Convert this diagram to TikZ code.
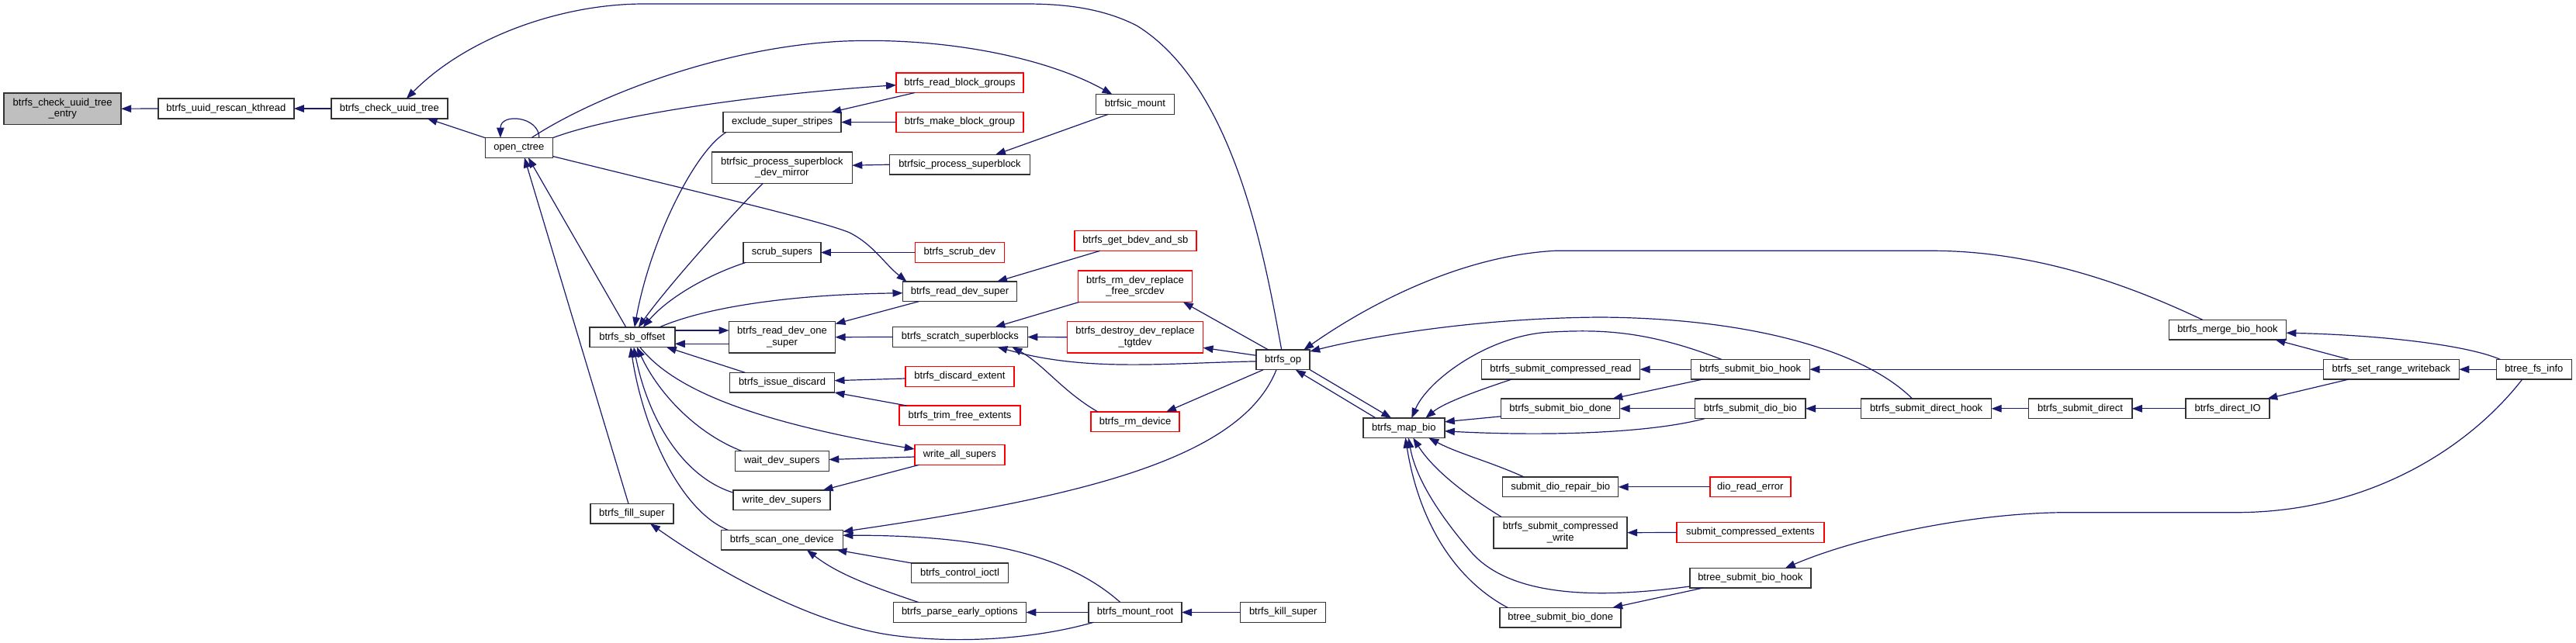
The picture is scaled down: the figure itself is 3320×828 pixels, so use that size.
\documentclass[tikz,border=0pt]{standalone}
\usepackage{fontspec}
\setmainfont{Liberation Sans}
\usetikzlibrary{arrows.meta,calc}
\definecolor{edgeblue}{HTML}{191970}
\definecolor{boxgray}{HTML}{BFBFBF}
\tikzset{
  box/.style={draw=black!80, line width=1.5pt, fill=white, minimum height=25.6pt,
    inner xsep=3pt, inner ysep=2pt, outer sep=0pt,
    font=\fontsize{13}{14.5}\selectfont, align=center, text=black},
  two/.style={minimum height=40.3pt},
  redbox/.style={box, draw=red},
  graybox/.style={box, fill=boxgray},
  e/.style={draw=edgeblue, line width=1.2pt, -{Triangle[length=13pt,width=9.5pt]}},
}
\begin{document}
\begin{tikzpicture}[x=1pt,y=-1pt]
\useasboundingbox (0,0) rectangle (3320,828);
\fill[white] (0,0) rectangle (3320,828);

% nodes
\node[graybox,two,minimum width=151pt] (entry) at (80.7,140.2) {btrfs\_check\_uuid\_tree\\\_entry};
\node[box,minimum width=175pt] (kthread) at (291.4,140) {btrfs\_uuid\_rescan\_kthread};
\node[box,minimum width=150pt] (cuuid) at (501.8,140) {btrfs\_check\_uuid\_tree};
\node[box,minimum width=87pt] (octree) at (668.9,190.5) {open\_ctree};
\node[box,minimum width=110pt] (sboff) at (814.8,434.7) {btrfs\_sb\_offset};
\node[box,minimum width=107pt] (fill) at (814.5,662.3) {btrfs\_fill\_super};
\node[box,minimum width=152pt] (exclude) at (1008.2,157.5) {exclude\_super\_stripes};
\node[redbox,minimum width=164pt] (rbg) at (1237,106.7) {btrfs\_read\_block\_groups};
\node[redbox,minimum width=164pt] (mbg) at (1237,157.5) {btrfs\_make\_block\_group};
\node[box,minimum width=101pt] (sicmount) at (1462.9,134.5) {btrfsic\_mount};
\node[box,two,minimum width=181pt] (devmirror) at (1007.8,216.2) {btrfsic\_process\_superblock\\\_dev\_mirror};
\node[box,minimum width=181pt] (sicproc) at (1237,212.2) {btrfsic\_process\_superblock};
\node[box,minimum width=100pt] (scrub) at (1007.9,325.5) {scrub\_supers};
\node[redbox,minimum width=115pt] (scrubdev) at (1236.8,325.5) {btrfs\_scrub\_dev};
\node[redbox,minimum width=157pt] (bdev) at (1463.4,310.5) {btrfs\_get\_bdev\_and\_sb};
\node[box,minimum width=147pt] (rds) at (1237,375.8) {btrfs\_read\_dev\_super};
\node[redbox,two,minimum width=147pt] (freesrc) at (1463,369.2) {btrfs\_rm\_dev\_replace\\\_free\_srcdev};
\node[box,two,minimum width=137pt] (rdos) at (1008,434.7) {btrfs\_read\_dev\_one\\\_super};
\node[box,minimum width=174pt] (scratch) at (1237.4,434.5) {btrfs\_scratch\_superblocks};
\node[redbox,two,minimum width=175pt] (tgtdev) at (1463,434.7) {btrfs\_destroy\_dev\_replace\\\_tgtdev};
\node[box,minimum width=69pt] (bop) at (1653.7,463.9) {btrfs\_op};
\node[box,minimum width=135pt] (discard) at (1008,493.2) {btrfs\_issue\_discard};
\node[redbox,minimum width=140pt] (dext) at (1237,485.5) {btrfs\_discard\_extent};
\node[redbox,minimum width=156pt] (trim) at (1237,535.8) {btrfs\_trim\_free\_extents};
\node[redbox,minimum width=114pt] (rmdev) at (1463,543.8) {btrfs\_rm\_device};
\node[redbox,minimum width=116pt] (was) at (1236.8,586.5) {write\_all\_supers};
\node[box,minimum width=121pt] (wait) at (1007.8,594.5) {wait\_dev\_supers};
\node[box,minimum width=125pt] (wds) at (1007.6,644.7) {write\_dev\_supers};
\node[box,minimum width=157pt] (scan) at (1007.8,696.2) {btrfs\_scan\_one\_device};
\node[box,minimum width=125pt] (ioctl) at (1237,738.7) {btrfs\_control\_ioctl};
\node[box,minimum width=171pt] (peo) at (1236.8,789.5) {btrfs\_parse\_early\_options};
\node[box,minimum width=120pt] (mroot) at (1463,789.5) {btrfs\_mount\_root};
\node[box,minimum width=110pt] (kill) at (1653.7,789.5) {btrfs\_kill\_super};
\node[box,minimum width=105pt] (map) at (1809.3,551.8) {btrfs\_map\_bio};
\node[box,minimum width=204pt] (scr) at (2011.5,476.2) {btrfs\_submit\_compressed\_read};
\node[box,minimum width=153pt] (sbd) at (2011.2,526.8) {btrfs\_submit\_bio\_done};
\node[box,minimum width=153pt] (sbh) at (2255.8,476.2) {btrfs\_submit\_bio\_hook};
\node[box,minimum width=142.5pt] (sdio) at (2255.8,526.8) {btrfs\_submit\_dio\_bio};
\node[box,minimum width=168pt] (sdh) at (2482.6,526.8) {btrfs\_submit\_direct\_hook};
\node[box,minimum width=149pt] (repair) at (2011.2,627.8) {submit\_dio\_repair\_bio};
\node[redbox,minimum width=104pt] (dre) at (2255.8,627.8) {dio\_read\_error};
\node[box,two,minimum width=172pt] (scw) at (2011.2,686.7) {btrfs\_submit\_compressed\\\_write};
\node[redbox,minimum width=190pt] (sce) at (2255.8,686.5) {submit\_compressed\_extents};
\node[box,minimum width=156pt] (bsbh) at (2255.8,745.2) {btree\_submit\_bio\_hook};
\node[box,minimum width=156pt] (bsbd) at (2011.2,796.2) {btree\_submit\_bio\_done};
\node[box,minimum width=151pt] (merge) at (2870.9,425.2) {btrfs\_merge\_bio\_hook};
\node[box,minimum width=175pt] (srw) at (3081.8,476.2) {btrfs\_set\_range\_writeback};
\node[box,minimum width=97pt] (bfi) at (3265.8,476.2) {btree\_fs\_info};
\node[box,minimum width=133.5pt] (sdirect) at (2681,526.8) {btrfs\_submit\_direct};
\node[box,minimum width=108pt] (dio) at (2871.2,526.8) {btrfs\_direct\_IO};

% edges (arrow head at the called function)
\draw[e] (kthread.west) -- (entry.east);
\draw[e] (cuuid.west) -- (kthread.east);
\draw[e] (octree.north west) -- ($(cuuid.south)+(48.8,0)$);
\draw[e] ($(bop.north)+(-2,0)$) .. controls (1630,330) and (1590,110) .. (1465,33) .. controls (1420,10) and (1370,5) .. (1322,5) -- (830,5) .. controls (720,5) and (600,50) .. ($(cuuid.north)+(22,0)$);
\draw[e] ($(octree.north)+(26,0)$) .. controls (695,150) and (645,145) .. ($(octree.north)+(-24,0)$);
\draw[e] ($(fill.north)+(-4.5,0)$) -- ($(octree.south)+(7,0)$);
\draw[e] ($(sboff.north)+(-8,0)$) -- ($(octree.south)+(12,0)$);
\draw[e] ($(octree.north)+(16,0)$) .. controls (765,125) and (930,60) .. (1089,53) .. controls (1220,48) and (1350,75) .. ($(sicmount.north)+(-29.4,0)$);
\draw[e] (octree.north east) .. controls (800,145) and (1000,120) .. ($(rbg.west)+(0,3)$);
\draw[e] ($(octree.east)+(0,11)$) .. controls (900,248) and (1060,285) .. (1095,300) .. controls (1125,315) and (1140,340) .. ($(rds.north west)+(5,0)$);
\draw[e] ($(rbg.south west)+(24,0)$) -- ($(exclude.north east)+(-13,0)$);
\draw[e] (mbg.west) -- (exclude.east);
\draw[e] ($(exclude.south west)+(4,0)$) .. controls (895,195) and (838,310) .. ($(sboff.north)+(3,0)$);
\draw[e] ($(devmirror.south)+(-24.5,0)$) .. controls (940,280) and (860,370) .. ($(sboff.north)+(8,0)$);
\draw[e] ($(scrub.south west)+(3.6,0)$) .. controls (910,355) and (860,385) .. ($(sboff.north)+(14,0)$);
\draw[e] ($(sboff.north)+(35,0)$) .. controls (900,400) and (1000,380) .. ($(rds.west)+(0,2)$);
\draw[e] ($(sboff.east)+(0,-8.7)$) -- ($(rdos.west)+(0,-8.7)$);
\draw[e] ($(rdos.west)+(0,8.6)$) -- ($(sboff.east)+(0,8.6)$);
\draw[e] ($(rds.south west)+(21,0)$) -- ($(rdos.north east)+(0,3)$);
\draw[e] (scratch.west) -- (rdos.east);
\draw[e] (tgtdev.west) -- (scratch.east);
\draw[e] ($(bop.west)+(0,-5.6)$) -- ($(tgtdev.east)+(0,13.6)$);
\draw[e] ($(bop.west)+(0,2)$) .. controls (1500,468) and (1400,480) .. ($(scratch.south)+(48,0)$);
\draw[e] ($(freesrc.south west)+(1.6,0)$) -- ($(scratch.north)+(45,0)$);
\draw[e] ($(bop.north west)+(15.7,0)$) -- ($(freesrc.south east)+(-11.7,0)$);
\draw[e] ($(bop.south west)+(9,0)$) -- ($(rmdev.north)+(40,0)$);
\draw[e] ($(rmdev.north west)+(9,0)$) .. controls (1370,505) and (1345,470) .. ($(scratch.south east)+(-20,0)$);
\draw[e] ($(bop.south)+(-8.7,0)$) .. controls (1600,590) and (1400,640) .. ($(scan.north east)+(0,2)$);
\draw[e] (bop.south east) -- ($(map.north)+(-16,0)$);
\draw[e] ($(map.north west)+(16.4,0)$) -- ($(bop.south)+(16,0)$);
\draw[e] ($(merge.north)+(-32,0)$) .. controls (2770,380) and (2640,323.3) .. (2490,323.3) -- (2004,323.3) .. controls (1880,330) and (1760,395) .. ($(bop.north east)+(-8,0)$);
\draw[e] ($(sdh.north)+(-18,0)$) .. controls (2400,450) and (2250,410) .. (2062,409) .. controls (1900,410) and (1760,435) .. ($(bop.north east)+(0,2)$);
\draw[e] ($(sbh.north)+(-37,0)$) .. controls (2120,425) and (2060,425) .. (2000,428) .. controls (1920,431) and (1840,490) .. ($(map.north)+(10,0)$);
\draw[e] ($(scr.south west)+(39,0)$) .. controls (1900,505) and (1860,520) .. ($(map.north)+(28,0)$);
\draw[e] ($(sbd.west)+(0,10)$) -- ($(map.east)+(0,-8)$);
\draw[e] ($(sdio.south west)+(12.7,0)$) .. controls (2120,560) and (1980,562) .. ($(map.east)+(0,4)$);
\draw[e] (sbh.west) -- (scr.east);
\draw[e] ($(sbh.south west)+(15.4,0)$) -- ($(sbd.north east)+(-9.5,0)$);
\draw[e] (sdio.west) -- (sbd.east);
\draw[e] (sdh.west) -- (sdio.east);
\draw[e] (srw.west) -- (sbh.east);
\draw[e] ($(repair.north west)+(27.5,0)$) .. controls (1920,595) and (1880,585) .. ($(map.south)+(32,0)$);
\draw[e] (dre.west) -- (repair.east);
\draw[e] ($(scw.north west)+(10,0)$) .. controls (1900,645) and (1850,610) .. ($(map.south)+(12,0)$);
\draw[e] (sce.west) -- (scw.east);
\draw[e] ($(bsbh.south west)+(0,-2)$) .. controls (2060,772) and (1950,770) .. (1898,714) .. controls (1860,670) and (1825,620) .. ($(map.south)+(6,0)$);
\draw[e] ($(bsbh.south west)+(17,0)$) -- ($(bsbd.north east)+(-11,0)$);
\draw[e] ($(bsbd.north west)+(10,0)$) .. controls (1880,750) and (1830,680) .. ($(map.south)+(2,0)$);
\draw[e] ($(bfi.south)+(-15,0)$) .. controls (3180,580) and (3050,660.7) .. (2881.7,660.7) -- (2664.7,660.7) .. controls (2550,660.7) and (2400,690) .. ($(bsbh.north)+(45,0)$);
\draw[e] ($(bfi.north west)+(5,0)$) .. controls (3180,445) and (3070,432) .. ($(merge.east)+(0,4)$);
\draw[e] ($(srw.north west)+(33,0)$) -- ($(merge.south east)+(-14,0)$);
\draw[e] (bfi.west) -- (srw.east);
\draw[e] ($(srw.south west)+(33,0)$) -- ($(dio.north east)+(-3,0)$);
\draw[e] (dio.west) -- (sdirect.east);
\draw[e] (sdirect.west) -- (sdh.east);
\draw[e] ($(discard.north west)+(20,0)$) -- ($(sboff.south east)+(-11,0)$);
\draw[e] ($(sboff.south)+(10,0)$) .. controls (870,505) and (980,545) .. ($(was.west)+(0,-7.5)$);
\draw[e] ($(was.west)+(0,2.5)$) -- ($(wait.east)+(0,-2)$);
\draw[e] ($(was.south west)+(5.8,0)$) -- ($(wds.north east)+(-9.5,0)$);
\draw[e] ($(wait.north west)+(9.2,0)$) .. controls (900,560) and (850,510) .. ($(sboff.south)+(6,0)$);
\draw[e] ($(wds.north west)+(0,3.3)$) .. controls (880,615) and (835,540) .. ($(sboff.south)+(2,0)$);
\draw[e] ($(scan.north west)+(9,0)$) .. controls (880,660) and (830,560) .. ($(sboff.south)+(-2,0)$);
\draw[e] ($(mroot.south west)+(6.4,0)$) .. controls (1330,825) and (1230,830) .. (1150,819) .. controls (1050,805) and (930,740) .. ($(fill.south)+(23.5,0)$);
\draw[e] ($(mroot.north)+(-19,0)$) .. controls (1380,720) and (1280,690) .. ($(scan.east)+(0,-6)$);
\draw[e] (ioctl.north west) -- ($(scan.south east)+(-8,0)$);
\draw[e] ($(peo.north west)+(33,0)$) .. controls (1120,755) and (1080,740) .. ($(scan.south)+(32,0)$);
\draw[e] (mroot.west) -- (peo.east);
\draw[e] (kill.west) -- (mroot.east);
\draw[e] ($(dext.west)+(0,2.5)$) -- ($(discard.east)+(0,-2.5)$);
\draw[e] ($(trim.north west)+(9.5,0)$) -- (discard.south east);
\draw[e] (scrubdev.west) -- (scrub.east);
\draw[e] (sicproc.west) -- ($(devmirror.east)+(0,-3)$);
\draw[e] ($(sicmount.south west)+(16,0)$) -- ($(sicproc.north)+(46,0)$);
\draw[e] ($(bdev.south west)+(33,0)$) -- ($(rds.north)+(48,0)$);
\end{tikzpicture}
\end{document}
